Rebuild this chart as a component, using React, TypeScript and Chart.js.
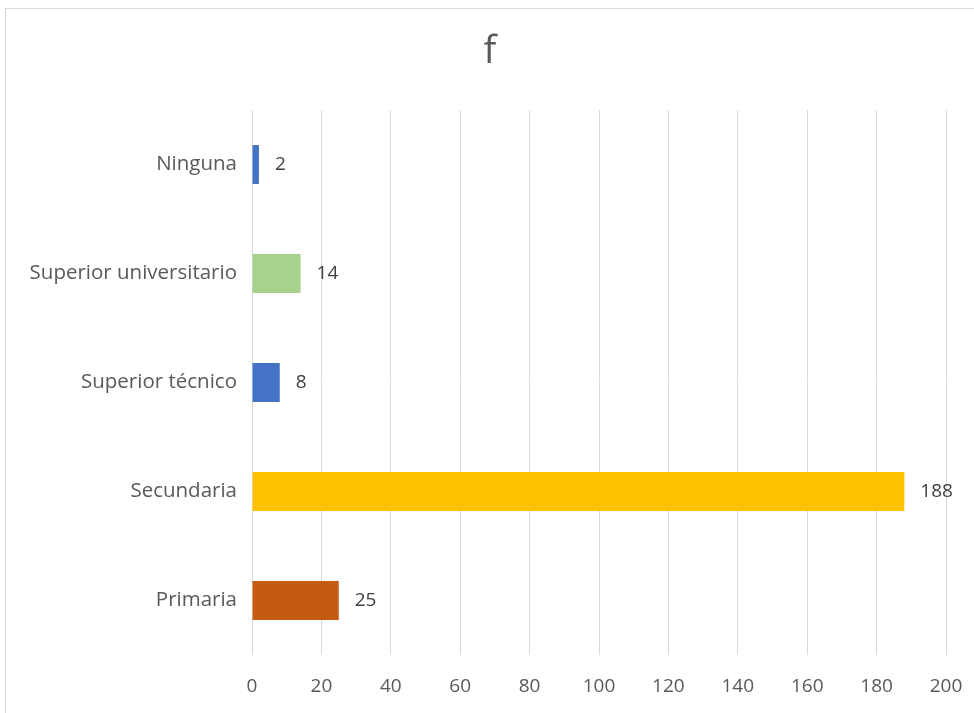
import React, { useEffect, useRef } from "react";
import { Chart, registerables } from "chart.js";

Chart.register(...registerables);

const categories = ["Ninguna", "Superior universitario", "Superior técnico", "Secundaria", "Primaria"];
const values = [2, 14, 8, 188, 25];
const barColors = ["#4472C4", "#A9D18E", "#4472C4", "#FFC000", "#C55A11"];
const chartTitle = "f";
const xMin = 0;
const xMax = 200;
const xStep = 20;

const FONT = "'Open Sans', sans-serif";

const valueLabels = {
  id: "valueLabels",
  afterDatasetsDraw(chart: any) {
    const ctx = chart.ctx;
    const meta = chart.getDatasetMeta(0);
    ctx.save();
    ctx.font = `19px ${FONT}`;
    ctx.fillStyle = "#404040";
    ctx.textAlign = "left";
    ctx.textBaseline = "middle";
    meta.data.forEach((bar: any, i: number) => {
      ctx.fillText(String(values[i]), bar.x + 16, bar.y);
    });
    ctx.restore();
  },
};

const titlePlugin = {
  id: "titleText",
  afterDraw(chart: any) {
    const ctx = chart.ctx;
    ctx.save();
    ctx.font = `38px ${FONT}`;
    ctx.fillStyle = "#595959";
    ctx.textAlign = "center";
    ctx.textBaseline = "alphabetic";
    ctx.fillText(chartTitle, 490, 63);
    ctx.restore();
  },
};

export default function App() {
  const ref = useRef<HTMLCanvasElement | null>(null);

  useEffect(() => {
    if (!ref.current) return;
    const chart = new Chart(ref.current, {
      type: "bar",
      data: {
        labels: categories,
        datasets: [
          {
            data: values,
            backgroundColor: barColors,
            borderWidth: 0,
            categoryPercentage: 1,
            barPercentage: 0.357,
          },
        ],
      },
      options: {
        indexAxis: "y",
        animation: false,
        responsive: false,
        maintainAspectRatio: false,
        layout: { padding: { top: 110, left: 0, right: 28, bottom: 0 } },
        plugins: {
          legend: { display: false },
          tooltip: { enabled: false },
          title: { display: false },
        },
        scales: {
          x: {
            min: xMin,
            max: xMax,
            grid: { color: "#d9d9d9", drawTicks: false, tickLength: 0 },
            border: { display: false },
            ticks: {
              stepSize: xStep,
              color: "#595959",
              padding: 20,
              font: { family: FONT, size: 19 },
              maxRotation: 0,
            },
            afterFit: (scale: any) => {
              scale.height = 58;
              scale.paddingRight = 0;
              scale.paddingLeft = 0;
            },
          },
          y: {
            grid: { display: false, drawTicks: false, tickLength: 0 },
            border: { display: false },
            ticks: {
              color: "#595959",
              padding: 15,
              font: { family: FONT, size: 20.5 },
            },
            afterFit: (scale: any) => {
              scale.width = 252;
              scale.paddingTop = 0;
              scale.paddingBottom = 0;
            },
          },
        },
      },
      plugins: [valueLabels, titlePlugin],
    });
    return () => chart.destroy();
  }, []);

  return (
    <div style={{ position: "fixed", left: 0, top: 0, width: 974, height: 713, background: "#fff" }}>
      <div
        style={{
          position: "absolute",
          left: 5,
          top: 8,
          right: 0,
          bottom: 0,
          borderTop: "1px solid #d9d9d9",
          borderLeft: "1px solid #d9d9d9",
        }}
      />
      <canvas ref={ref} width={974} height={713} style={{ position: "absolute", left: 0, top: 0, width: 974, height: 713 }} />
    </div>
  );
}
